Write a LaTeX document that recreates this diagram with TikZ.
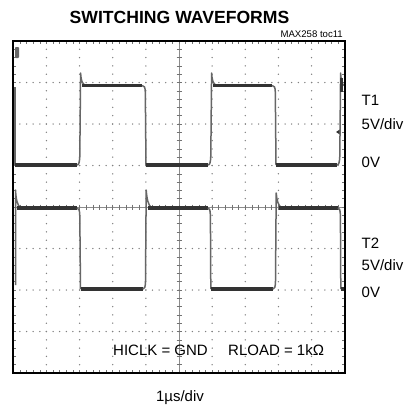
\documentclass[tikz,border=0pt]{standalone}
\usepackage{fontspec}
\setmainfont{Liberation Sans}
\begin{document}
\begin{tikzpicture}[x=1pt,y=-1pt,
  gdot/.style={fill=black!50},
  axisline/.style={draw=black!45, line width=0.6pt},
  tick/.style={draw=black!55, line width=0.6pt},
  frame/.style={draw=black, line width=2.2pt},
  trace/.style={line width=3.2pt, black!80, line join=round},
  edgeline/.style={line width=1.5pt, black!60, line join=round},
  lbl/.style={font=\fontsize{15}{15}\selectfont, inner sep=0pt},
  ttl/.style={font=\fontsize{17.6}{18}\selectfont\bfseries, inner sep=0pt},
  small/.style={font=\fontsize{9.6}{10}\selectfont, inner sep=0pt}]
\useasboundingbox (0,0) rectangle (411,410);
\fill[white] (0,0) rectangle (411,410);

% grid dots (vertical lines)
\foreach \i in {1,2,3,4,6,7,8,9}{
  \foreach \k in {1,...,39}{
    \fill[gdot] ({13.3+33.14*\i},{41+8.3*\k}) circle (0.75);
  }
}
% grid dots (horizontal lines)
\foreach \j in {1,2,3,5,6,7}{
  \foreach \k in {1,...,49}{
    \fill[gdot] ({13.3+6.628*\k},{41+41.5*\j}) circle (0.75);
  }
}
% centre axes with ticks
\draw[axisline] (179,41) -- (179,373);
\draw[axisline] (13.3,207) -- (344.7,207);
\foreach \k in {1,...,39}{
  \draw[tick] (176.5,{41+8.3*\k}) -- (181.5,{41+8.3*\k});
}
\foreach \k in {1,...,49}{
  \draw[tick] ({13.3+6.628*\k},204.5) -- ({13.3+6.628*\k},209.5);
}
% frame ticks
\foreach \k in {1,...,49}{
  \draw[tick] ({13.3+6.628*\k},41) -- ({13.3+6.628*\k},44);
  \draw[tick] ({13.3+6.628*\k},373) -- ({13.3+6.628*\k},370);
}
\foreach \k in {1,...,39}{
  \draw[tick] (13.3,{41+8.3*\k}) -- (16.3,{41+8.3*\k});
  \draw[tick] (344.7,{41+8.3*\k}) -- (341.7,{41+8.3*\k});
}

% markers
\fill[black!60, rounded corners=0.8pt] (15,47) rectangle (19,58);
\fill[black!80] (336,132) -- (340.5,129) -- (340.5,135) -- cycle;

% ---- trace T1 ----
\draw[edgeline] (15,87) -- (15,165);
\draw[trace] (15,165) -- (77,165);
\draw[edgeline] (77,165) .. controls (79,165) and (79.5,162) .. (79.8,156) -- (80.6,73)
  .. controls (81,80) and (82,84.5) .. (86,85.5);
\draw[trace] (82,85.5) -- (142,85.5);
\draw[edgeline] (142,85.5) .. controls (144.5,85.5) and (145,87) .. (145.3,92) -- (146,165);
\draw[trace] (146,165) -- (208,165);
\draw[edgeline] (208,165) .. controls (210,165) and (210.5,162) .. (210.8,156) -- (211.6,73)
  .. controls (212,80) and (213,84.5) .. (217,85.5);
\draw[trace] (213,85.5) -- (272,85.5);
\draw[edgeline] (272,85.5) .. controls (274.5,85.5) and (275,87) .. (275.3,92) -- (276,165);
\draw[trace] (276,165) -- (337,165);
\draw[edgeline] (337,165) .. controls (339,165) and (339.5,162) .. (339.8,156) -- (340.6,73)
  .. controls (341,80) and (342,84.5) .. (344,85.5);
\draw[trace] (341.8,78) -- (341.8,92);

% ---- trace T2 ----
\draw[edgeline] (15.5,285) -- (15.5,190) .. controls (16,198) and (17,206) .. (21,208);
\draw[trace] (17,208) -- (77,208);
\draw[edgeline] (77,208) .. controls (79,208) and (79.6,210) .. (79.8,216) -- (80.5,289);
\draw[trace] (81,289) -- (143,289);
\draw[edgeline] (143,289) .. controls (144.8,289) and (145.3,287) .. (145.5,281) -- (146.2,190)
  .. controls (146.8,198) and (148,206) .. (152,208);
\draw[trace] (148,208) -- (208,208);
\draw[edgeline] (208,208) .. controls (209.6,208) and (210.2,210) .. (210.4,216) -- (210.8,289);
\draw[trace] (211,289) -- (273,289);
\draw[edgeline] (273,289) .. controls (274.8,289) and (275.3,287) .. (275.5,281) -- (276.2,193)
  .. controls (276.8,200) and (278,206) .. (282,208);
\draw[trace] (279,208) -- (338,208);
\draw[edgeline] (338,208) .. controls (339.6,208) and (340.2,210) .. (340.4,216) -- (340.8,289);
\draw[trace] (341,289) -- (343.5,289);

% frame
\draw[frame] (13.3,41) rectangle (344.7,373);

% texts
\node[ttl, anchor=base] (title) at (179.5,23) {SWITCHING WAVEFORMS};
\node[small, anchor=base east] (toc) at (343,37) {MAX258 toc11};
\node[lbl, anchor=base west] (t1) at (361.5,105) {T1};
\node[lbl, anchor=base west] (t1s) at (361.5,129) {5V/div};
\node[lbl, anchor=base west] (t1z) at (361.5,167) {0V};
\node[lbl, anchor=base west] (t2) at (361.5,248) {T2};
\node[lbl, anchor=base west] (t2s) at (361.5,270) {5V/div};
\node[lbl, anchor=base west] (t2z) at (361.5,297) {0V};
\node[lbl, anchor=base west] (hiclk) at (113,355) {HICLK = GND};
\node[lbl, anchor=base west] (rload) at (228,355) {RLOAD = 1k\symbol{"03A9}};
\node[lbl, anchor=base] (tdiv) at (180,401.5) {1\symbol{"00B5}s/div};
\end{tikzpicture}
\end{document}
